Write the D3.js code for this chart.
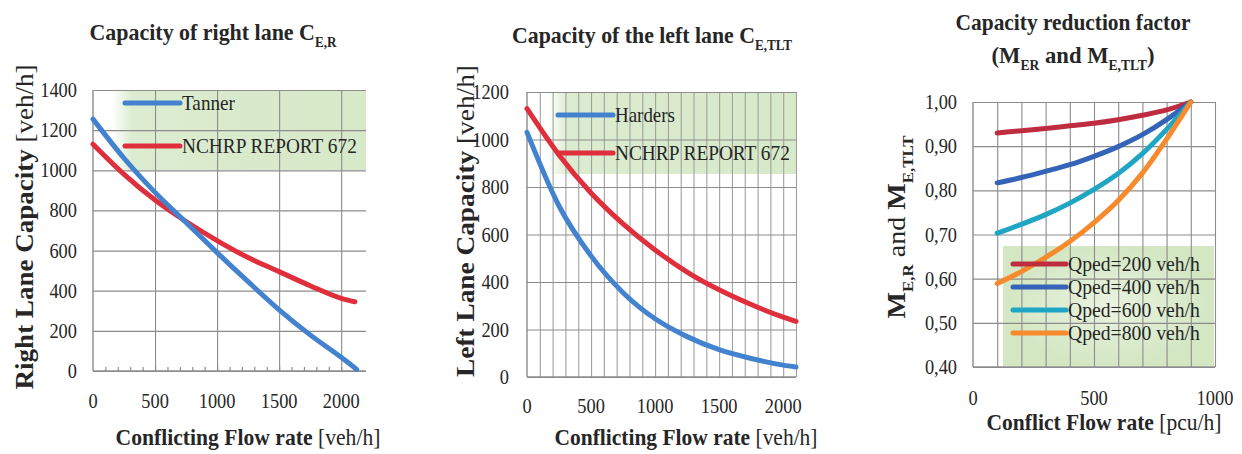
<!DOCTYPE html>
<html>
<head>
<meta charset="utf-8">
<script src="https://cdn.jsdelivr.net/npm/d3@7"></script>
<style>
  html, body { margin: 0; padding: 0; background: #fff; }
  svg { display: block; }
</style>
</head>
<body>
<div id="wall"></div>
<script>

// ---- data ----
// right lane
const flowRight = [0, 250, 500, 750, 1000, 1250, 1500, 1750, 2000, 2125]
const tanner = [1255, 1060, 890, 740, 590, 445, 305, 180, 68, 8]
const flowRightN = [0, 250, 500, 750, 1000, 1250, 1500, 1750, 2000, 2110]
const nchrpRight = [1130, 980, 852, 745, 650, 565, 495, 425, 362, 345]

// left lane
const flowLeft = [0, 250, 500, 750, 1000, 1250, 1500, 1750, 2000, 2100]
const harders = [1030, 720, 510, 355, 245, 170, 115, 78, 50, 42]
const nchrpLeft = [1130, 935, 775, 645, 535, 442, 367, 305, 252, 234]

// reduction factor
const conflictFlow = [100, 200, 300, 400, 500, 600, 700, 800, 900]
const qped200 = [0.930, 0.935, 0.940, 0.946, 0.952, 0.960, 0.970, 0.982, 1.000]
const qped400 = [0.817, 0.829, 0.843, 0.858, 0.877, 0.899, 0.926, 0.960, 1.000]
const qped600 = [0.703, 0.723, 0.745, 0.771, 0.802, 0.838, 0.883, 0.938, 1.000]
const qped800 = [0.589, 0.616, 0.648, 0.684, 0.727, 0.777, 0.839, 0.916, 1.000]
const qpedNames = ["Qped=200 veh/h", "Qped=400 veh/h", "Qped=600 veh/h", "Qped=800 veh/h"]

// ticks
const xTicksA = [0, 500, 1000, 1500, 2000]
const yTicksRight = [0, 200, 400, 600, 800, 1000, 1200, 1400]
const yTicksLeft = [0, 200, 400, 600, 800, 1000, 1200]
const xTicksC = [0, 500, 1000]
const yTicksC = [0.4, 0.5, 0.6, 0.7, 0.8, 0.9, 1.0]
const yLabelsC = ["0,40", "0,50", "0,60", "0,70", "0,80", "0,90", "1,00"]

const width = 1242, height = 454
const serif = "Liberation Serif"
const ink = "#262626"
const BASE = 16   // text is set at 16px and scaled up, big sizes fell back to a sans face

const svg = d3.select("#wall").append("svg")
    .attr("width", width).attr("height", height)
    .attr("viewBox", `0 0 ${width} ${height}`)

const defs = svg.append("defs")
const grad = defs.append("linearGradient").attr("id", "legGreen")
grad.append("stop").attr("offset", "0%").attr("stop-color", "#dcecd0").attr("stop-opacity", 0)
grad.append("stop").attr("offset", "8%").attr("stop-color", "#dcecd0").attr("stop-opacity", 1)
grad.append("stop").attr("offset", "100%").attr("stop-color", "#d6e9c8").attr("stop-opacity", 1)
const grad2 = defs.append("radialGradient").attr("id", "legGreen2")
grad2.append("stop").attr("offset", "0%").attr("stop-color", "#eaf3e0")
grad2.append("stop").attr("offset", "100%").attr("stop-color", "#d3e7c3")

// text made of pieces {t, b (bold), s (subscript)}; squeezed sideways to width w
function label(x, y, parts, o) {
    const g = svg.append("g")
    const t = g.append("text")
        .attr("text-anchor", o.anchor || "middle")
        .attr("font-family", serif)
        .attr("font-size", BASE)
        .attr("fill", ink)
    let down = 0
    parts.forEach(p => {
        const shift = p.s ? BASE * 0.3 : 0
        const ts = t.append("tspan")
            .attr("font-weight", p.b ? "bold" : "normal")
            .attr("dy", shift - down)
            .text(p.t)
        if (p.s) ts.attr("font-size", BASE * 0.6)
        down = shift
    })
    const f = o.size / BASE
    const k = o.w ? o.w / t.node().getComputedTextLength() : 0.85 * f
    const tr = o.rot ? ` rotate(-90) scale(${k},${f})` : ` scale(${k},${f})`
    g.attr("transform", `translate(${x},${y})` + tr)
    return g
}

// width of a tick label in the picture: ~9.2px per digit, less for a comma
const tickW = s => s.replace(/,/g, "").length * 9.2 + (s.includes(",") ? 4.5 : 0)

function panel(c) {
    const x = d3.scaleLinear().domain(c.xDomain).range([c.left, c.right])
    const y = d3.scaleLinear().domain(c.yDomain).range([c.bottom, c.top])
    const g = svg.append("g")

    // legend shading sits under the grid
    g.append("rect")
        .attr("x", c.shade[0]).attr("y", c.shade[1])
        .attr("width", c.shade[2]).attr("height", c.shade[3])
        .attr("fill", c.shadeFill)

    // vertical grid
    g.append("g")
        .attr("transform", `translate(0,${c.bottom})`)
        .call(d3.axisBottom(x).tickValues(c.vGrid).tickSize(-(c.bottom - c.top)).tickFormat(""))
        .call(a => a.select(".domain").remove())
        .selectAll("line").attr("stroke", c.vGridColor || "#8c8c8c").attr("stroke-width", 1.1)

    // horizontal grid
    g.append("g")
        .attr("transform", `translate(${c.left},0)`)
        .call(d3.axisLeft(y).tickValues(c.yTicks).tickSize(-(c.right - c.left)).tickFormat(""))
        .call(a => a.select(".domain").remove())
        .selectAll("line").attr("stroke", "#8c8c8c").attr("stroke-width", 1.2)

    // axis lines
    g.append("line").attr("x1", c.left).attr("x2", c.left).attr("y1", c.top).attr("y2", c.bottom)
        .attr("stroke", "#8c8c8c").attr("stroke-width", 1.4)
    g.append("line").attr("x1", c.left).attr("x2", c.right).attr("y1", c.bottom).attr("y2", c.bottom)
        .attr("stroke", "#8c8c8c").attr("stroke-width", 1.4)

    // small ticks along the bottom
    if (c.minor) {
        g.append("g")
            .attr("transform", `translate(0,${c.bottom})`)
            .call(d3.axisTop(x).tickValues(c.minor).tickSize(4).tickFormat(""))
            .call(a => a.select(".domain").remove())
            .selectAll("line").attr("stroke", "#8c8c8c").attr("stroke-width", 1.2)
    }

    // tick labels
    c.yTicks.forEach((v, i) => {
        const s = c.yFmt ? c.yFmt[i] : String(v)
        label(c.left - c.yPad, y(v) + 7, [{t: s}], {size: 21, anchor: "end", w: tickW(s)})
    })
    c.xTicks.forEach(v => {
        const s = String(v)
        label(x(v), c.xLabY, [{t: s}], {size: 21, w: tickW(s)})
    })

    return {x, y, g}
}

// ---------------- panel 1 ----------------
const p1 = panel({
    left: 93, right: 366, top: 90, bottom: 371,
    xDomain: [0, 2200], yDomain: [0, 1400],
    xTicks: xTicksA, yTicks: yTicksRight, vGrid: [500, 1000, 1500, 2000],
    minor: d3.range(100, 2200, 100),
    yPad: 16, xLabY: 408,
    shade: [112, 90, 254, 80], shadeFill: "url(#legGreen)"
})

// ---------------- panel 2 ----------------
const p2 = panel({
    left: 527, right: 796, top: 92, bottom: 377,
    xDomain: [0, 2100], yDomain: [0, 1200],
    xTicks: xTicksA, yTicks: yTicksLeft, vGrid: d3.range(100, 2200, 100), vGridColor: "#a0a0a0",
    yPad: 18, xLabY: 413,
    shade: [548, 92, 248, 82], shadeFill: "url(#legGreen)"
})

// ---------------- panel 3 ----------------
const p3 = panel({
    left: 973, right: 1215, top: 102, bottom: 367,
    xDomain: [0, 1000], yDomain: [0.4, 1.0],
    xTicks: xTicksC, yTicks: yTicksC, yFmt: yLabelsC, vGrid: d3.range(100, 1100, 100),
    yPad: 16, xLabY: 405,
    shade: [1003, 246, 211, 120], shadeFill: "url(#legGreen2)"
})

function drawLine(p, xs, ys, color, w) {
    const line = d3.line().x(d => p.x(d[0])).y(d => p.y(d[1])).curve(d3.curveMonotoneX)
    p.g.append("path")
        .datum(d3.zip(xs, ys))
        .attr("d", line)
        .attr("fill", "none")
        .attr("stroke", color)
        .attr("stroke-width", w)
        .attr("stroke-linecap", "round")
}

const blue = "#4382cf", red = "#e02f3c"
drawLine(p1, flowRightN, nchrpRight, red, 5)
drawLine(p1, flowRight, tanner, blue, 5)
drawLine(p2, flowLeft, nchrpLeft, red, 5)
drawLine(p2, flowLeft, harders, blue, 5)

const qColors = ["#bf2c40", "#3463b8", "#1ea6c4", "#f68a2c"]
const qSeries = [qped200, qped400, qped600, qped800]
qSeries.forEach((s, i) => drawLine(p3, conflictFlow, s, qColors[i], 5))

// legends
function legendRow(x1, x2, y, color, name, size, w) {
    svg.append("line").attr("x1", x1).attr("x2", x2).attr("y1", y).attr("y2", y)
        .attr("stroke", color).attr("stroke-width", 5).attr("stroke-linecap", "round")
    label(x2 + 2, y + 7, [{t: name}], {size: size, anchor: "start", w: w})
}
legendRow(125, 180, 103, blue, "Tanner", 22, 53)
legendRow(125, 180, 146, red, "NCHRP REPORT 672", 22, 175)
legendRow(558, 613, 115, blue, "Harders", 22, 60)
legendRow(558, 613, 153, red, "NCHRP REPORT 672", 22, 175)
qpedNames.forEach((n, i) => legendRow(1013, 1066, 264 + i * 23, qColors[i], n, 20, 132))

// titles
label(213, 40, [{t: "Capacity of right lane C", b: true}, {t: "E,R", b: true, s: true}], {size: 24, w: 247})
label(652, 43, [{t: "Capacity of the left lane C", b: true}, {t: "E,TLT", b: true, s: true}], {size: 24, w: 280})
label(1073, 30, [{t: "Capacity reduction factor", b: true}], {size: 24, w: 235})
label(1073, 63, [{t: "(M", b: true}, {t: "ER", b: true, s: true}, {t: " and M", b: true}, {t: "E,TLT", b: true, s: true}, {t: ")", b: true}], {size: 24, w: 163})

// axis titles
label(33, 227, [{t: "Right Lane Capacity ", b: true}, {t: "[veh/h]"}], {size: 26, rot: true, w: 325})
label(474, 221, [{t: "Left Lane Capacity ", b: true}, {t: "[veh/h]"}], {size: 26, rot: true, w: 312})
label(905, 227, [{t: "M", b: true}, {t: "E,R", b: true, s: true}, {t: "  and  "}, {t: "M", b: true}, {t: "E,TLT", b: true, s: true}], {size: 26, rot: true, w: 183})

label(248, 445, [{t: "Conflicting Flow rate ", b: true}, {t: "[veh/h]"}], {size: 23, w: 265})
label(686, 445, [{t: "Conflicting Flow rate ", b: true}, {t: "[veh/h]"}], {size: 23, w: 263})
label(1104, 430, [{t: "Conflict Flow rate ", b: true}, {t: "[pcu/h]"}], {size: 23, w: 235})

</script>
</body>
</html>
